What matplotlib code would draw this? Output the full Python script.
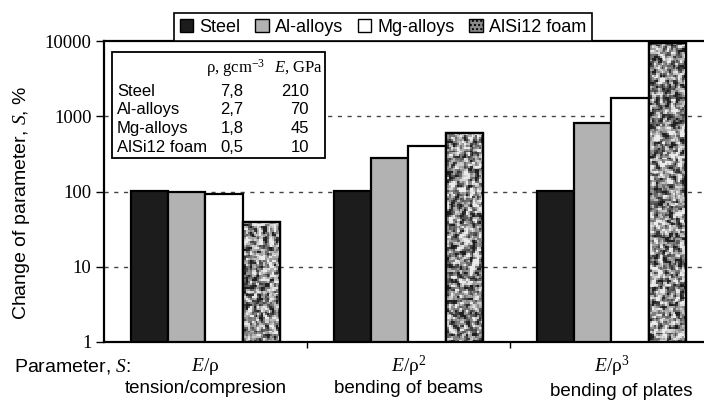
import numpy as np
import matplotlib
matplotlib.use("Agg")
import matplotlib.pyplot as plt
from matplotlib.patches import Patch, Rectangle
from matplotlib.ticker import FixedLocator, FuncFormatter

plt.rcParams["font.family"] = ["Liberation Sans", "DejaVu Sans"]
plt.rcParams["mathtext.fontset"] = "custom"
plt.rcParams["mathtext.rm"] = "Liberation Serif"
plt.rcParams["mathtext.it"] = "Liberation Serif:italic"

# data (change of parameter S, % of steel)
series = ["Steel", "Al-alloys", "Mg-alloys", "AlSi12 foam"]
steel = [100, 100, 100]
al_alloys = [96, 280, 805]
mg_alloys = [93, 405, 1740]
foam = [38, 590, 9500]
formulas = ["$E$/ρ", "$E$/ρ$^2$", "$E$/ρ$^3$"]
load_cases = ["tension/compresion", "bending of beams", "bending of plates"]

# inset table
materials = ["Steel", "Al-alloys", "Mg-alloys", "AlSi12 foam"]
density = [7.8, 2.7, 1.8, 0.5]
modulus = [210, 70, 45, 10]

W, H = 704, 400
fig = plt.figure(figsize=(W / 100, H / 100), dpi=100)


def px(x, y):
    return x / W, 1 - y / H


ax = fig.add_axes([104 / W, 1 - 342 / H, 600 / W, 301 / H])
ax.set_yscale("log")
ax.set_ylim(1, 10000)
ax.set_xlim(-0.5, 2.456)

x = np.arange(len(formulas))
w = 0.183
faces = ["#1c1c1c", "#b2b2b2", "white", "#7a7a7a"]
bars = []
for i, vals in enumerate([steel, al_alloys, mg_alloys, foam]):
    b = ax.bar(x + (i - 1.5) * w, vals, w, bottom=1, color=faces[i],
               edgecolor="black", linewidth=1.6, zorder=3)
    bars.append(b)

# speckle texture on the foam bars
rng = np.random.default_rng(3)
for rect in bars[3]:
    x0 = rect.get_x()
    x1 = x0 + rect.get_width()
    top = rect.get_y() + rect.get_height()
    ny = max(int(np.log10(top) * 40), 2)
    nx = 20
    xe = np.linspace(x0, x1, nx + 1)
    ye = np.geomspace(1, top, ny + 1)
    z = rng.uniform(0.0, 1.0, (ny + 1, nx + 1))
    z = (z[:-1, :-1] + z[1:, :-1] + z[:-1, 1:] + z[1:, 1:]) / 4
    z = np.clip((z - 0.5) * 1.9 + 0.55, 0.12, 0.92)
    mesh = ax.pcolormesh(xe, ye, z, cmap="gray", vmin=0, vmax=1, zorder=3.5)
    mesh.set_clip_path(rect)
    ax.add_patch(Rectangle((x0, 1), x1 - x0, top - 1, fill=False,
                           edgecolor="black", linewidth=1.6, zorder=4))

# grid
for g in [10, 100, 1000]:
    ax.axhline(g, color="#444444", linewidth=1.0, linestyle=(0, (3, 4)), zorder=1)

ax.spines["right"].set_visible(False)
for s in ["left", "top", "bottom"]:
    ax.spines[s].set_linewidth(1.6)

ax.yaxis.set_major_locator(FixedLocator([1, 10, 100, 1000, 10000]))
ax.yaxis.set_minor_locator(FixedLocator([]))
ax.yaxis.set_major_formatter(FuncFormatter(lambda v, p: f"{v:g}"))
ax.tick_params(axis="y", direction="out", length=6, width=1, pad=3,
               labelsize=13.5, labelfontfamily="Liberation Serif")
ax.set_xticks([0.5, 1.5])
ax.set_xticklabels([])
ax.tick_params(axis="x", direction="out", length=4, width=1)

# category labels under the axis
tr = ax.get_xaxis_transform()
for i in range(len(formulas)):
    ax.text(x[i], -0.08, formulas[i], transform=tr, ha="center", va="center",
            fontsize=14, fontfamily="Liberation Serif")
    ax.text(x[i] + (0.05 if i == 2 else 0), -0.155 - (0.008 if i == 2 else 0),
            load_cases[i], transform=tr, ha="center", va="center",
            fontsize=13.5)
fig.text(*px(14, 367), r"Parameter, $\mathit{S}$:", ha="left", va="center",
         fontsize=14)

fig.text(*px(22, 203), r"Change of parameter, $\mathit{S}$, %", rotation=90,
         ha="center", va="center", fontsize=14)

# legend on top of the axes
handles = [Patch(facecolor=faces[0], edgecolor="black"),
           Patch(facecolor=faces[1], edgecolor="black"),
           Patch(facecolor=faces[2], edgecolor="black"),
           Patch(facecolor="#8a8a8a", edgecolor="black", hatch="....")]
leg = ax.legend(handles, series, ncol=4, loc="lower center",
                bbox_to_anchor=((383 - 104) / 600, 1.0), fontsize=13,
                frameon=True, fancybox=False, framealpha=1,
                handlelength=0.75, handleheight=0.75, handletextpad=0.35,
                columnspacing=0.8, borderpad=0.3, borderaxespad=0)
leg.get_frame().set_edgecolor("black")
leg.get_frame().set_linewidth(1.2)

# inset table
x0, y0 = px(112, 158)
x1, y1 = px(325, 52)
fig.add_artist(Rectangle((x0, y0), x1 - x0, y1 - y0, transform=fig.transFigure,
                         facecolor="white", edgecolor="black", linewidth=1.3,
                         zorder=5))
fig.text(*px(206, 68), "ρ, gcm$^{-3}$", ha="left", va="center",
         fontsize=12, fontfamily="Liberation Serif", zorder=6)
fig.text(*px(274, 68), "$E$, GPa", ha="left", va="center",
         fontsize=12, fontfamily="Liberation Serif", zorder=6)
for k, name in enumerate(materials):
    yy = 91 + k * 18.8
    fig.text(*px(117, yy), name, ha="left", va="center", fontsize=12, zorder=6)
    fig.text(*px(232, yy), f"{density[k]:.1f}".replace(".", ","), ha="center",
             va="center", fontsize=12, zorder=6)
    fig.text(*px(309, yy), f"{modulus[k]}", ha="right", va="center",
             fontsize=12, zorder=6)

fig.savefig("out.png", dpi=100)
